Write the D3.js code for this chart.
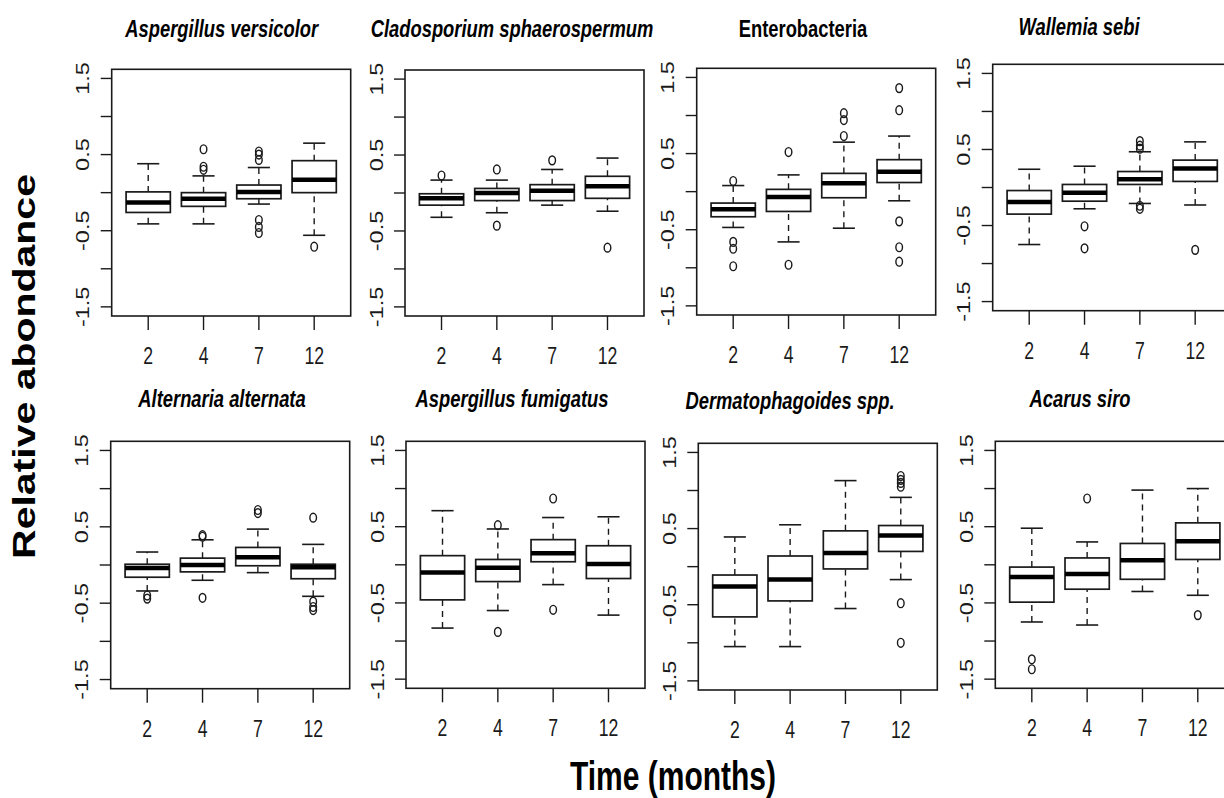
<!DOCTYPE html>
<html>
<head>
<meta charset="utf-8">
<script src="https://cdn.jsdelivr.net/npm/d3@7"></script>
<style>
  body { margin: 0; background: #fff; }
  svg { display: block; font-family: "Liberation Sans", Arial, sans-serif; }
</style>
</head>
<body>
<div id="chart"></div>
<script>
const W = 1224;
const H = 798;

const months = ["2", "4", "7", "12"];
const yTicks = [-1.5, -1, -0.5, 0, 0.5, 1, 1.5];
const yLabels = [-1.5, -0.5, 0.5, 1.5];

const species = ["Aspergillus versicolor", "Cladosporium sphaerospermum", "Enterobacteria", "Wallemia sebi",
                 "Alternaria alternata", "Aspergillus fumigatus", "Dermatophagoides spp.", "Acarus siro"];
const italic = [true, true, false, true, true, true, true, true];

// each box: [lower whisker, q1, median, q3, upper whisker]
const versicolorBox = [[-0.41, -0.26, -0.13, 0.01, 0.38], [-0.41, -0.18, -0.08, 0.0, 0.22], [-0.15, -0.08, 0.01, 0.10, 0.33], [-0.56, 0.0, 0.17, 0.42, 0.65]];
const versicolorOut = [[], [0.57, 0.34, 0.30], [0.54, 0.50, 0.43, -0.36, -0.45, -0.53], [-0.71]];

const cladoBox = [[-0.32, -0.16, -0.07, -0.01, 0.17], [-0.26, -0.10, 0.0, 0.06, 0.17], [-0.16, -0.10, 0.03, 0.11, 0.31], [-0.24, -0.07, 0.09, 0.22, 0.46]];
const cladoOut = [[0.23], [0.31, -0.43], [0.43], [-0.72]];

const enteroBox = [[-0.47, -0.33, -0.23, -0.15, 0.08], [-0.66, -0.26, -0.07, 0.03, 0.22], [-0.48, -0.08, 0.11, 0.24, 0.65], [-0.12, 0.12, 0.26, 0.42, 0.73]];
const enteroOut = [[0.14, -0.66, -0.75, -0.98], [0.52, -0.96], [1.03, 0.94, 0.73], [1.36, 1.07, -0.39, -0.73, -0.92]];

const wallemiaBox = [[-0.75, -0.35, -0.19, -0.04, 0.24], [-0.28, -0.18, -0.07, 0.04, 0.28], [-0.21, 0.04, 0.11, 0.21, 0.47], [-0.23, 0.08, 0.25, 0.36, 0.60]];
const wallemiaOut = [[], [-0.51, -0.80], [0.61, 0.55, 0.51, -0.24, -0.28], [-0.82]];

const alternariaBox = [[-0.34, -0.16, -0.04, 0.01, 0.17], [-0.20, -0.09, 0.0, 0.09, 0.33], [-0.10, -0.01, 0.10, 0.23, 0.47], [-0.41, -0.18, -0.03, 0.01, 0.27]];
const alternariaOut = [[-0.40, -0.44], [0.39, 0.37, -0.43], [0.72, 0.68], [0.62, -0.48, -0.55, -0.59]];

const fumigatusBox = [[-0.83, -0.46, -0.10, 0.12, 0.71], [-0.60, -0.22, -0.04, 0.07, 0.47], [-0.26, 0.04, 0.15, 0.33, 0.62], [-0.66, -0.18, 0.01, 0.25, 0.63]];
const fumigatusOut = [[], [0.52, -0.88], [0.87, -0.59], []];

const dermatoBox = [[-1.05, -0.66, -0.26, -0.11, 0.39], [-1.05, -0.45, -0.17, 0.14, 0.55], [-0.55, -0.03, 0.18, 0.47, 1.13], [-0.17, 0.20, 0.41, 0.54, 0.91]];
const dermatoOut = [[], [], [], [1.19, 1.14, 1.10, 1.05, -0.48, -1.0]];

const acarusBox = [[-0.75, -0.49, -0.16, -0.03, 0.48], [-0.79, -0.32, -0.12, 0.09, 0.30], [-0.35, -0.19, 0.06, 0.28, 0.98], [-0.40, 0.07, 0.31, 0.55, 1.0]];
const acarusOut = [[-1.24, -1.37], [0.87], [], [-0.66]];

const boxes = [versicolorBox, cladoBox, enteroBox, wallemiaBox, alternariaBox, fumigatusBox, dermatoBox, acarusBox];
const outs = [versicolorOut, cladoOut, enteroOut, wallemiaOut, alternariaOut, fumigatusOut, dermatoOut, acarusOut];

// panel frames: left, top, bottom   (the picture is squeezed sideways, so text is scaled by sx)
const frames = [[111.7, 69.3, 316], [405, 70, 316], [696.7, 68.3, 315], [992.7, 64.3, 310.7],
                [110.7, 441.3, 688.7], [406, 441.3, 688.3], [698.3, 443.3, 690], [995.3, 441.3, 688.3]];
const titlePos = [[221.7, 37], [512, 37], [803, 37], [1079, 35], [222, 407], [512, 407], [790, 409], [1080, 407]];
const pw = 239;
const sx = 0.75;
const ink = "#1a1a1a";

const svg = d3.select("#chart")
  .append("svg")
  .attr("width", W)
  .attr("height", H);

for (let p = 0; p < 8; p++) {
  const [left, top, bottom] = frames[p];
  const x = d3.scaleLinear().domain([0.34, 4.66]).range([left, left + pw]);
  const y = d3.scaleLinear().domain([-1.62, 1.62]).range([bottom, top]);
  const g = svg.append("g");

  // frame
  g.append("rect")
    .attr("x", left).attr("y", top)
    .attr("width", pw).attr("height", bottom - top)
    .attr("fill", "none").attr("stroke", ink).attr("stroke-width", 1.6);

  // y axis ticks
  g.selectAll(".yt").data(yTicks).enter().append("line")
    .attr("x1", left - 11).attr("x2", left)
    .attr("y1", d => y(d)).attr("y2", d => y(d))
    .attr("stroke", ink).attr("stroke-width", 1.4);
  g.selectAll(".yl").data(yLabels).enter().append("text")
    .attr("transform", d => `translate(${left - 22.5},${y(d)}) scale(${sx},1) rotate(-90)`)
    .attr("text-anchor", "middle")
    .attr("font-size", 23.5)
    .attr("fill", ink)
    .text(d => d);

  // x axis ticks
  g.selectAll(".xt").data(months).enter().append("line")
    .attr("x1", (d, i) => x(i + 1)).attr("x2", (d, i) => x(i + 1))
    .attr("y1", bottom).attr("y2", bottom + 14)
    .attr("stroke", ink).attr("stroke-width", 1.4);
  g.selectAll(".xl").data(months).enter().append("text")
    .attr("transform", (d, i) => `translate(${x(i + 1)},${bottom + 48}) scale(${sx},1)`)
    .attr("text-anchor", "middle")
    .attr("font-size", 23.5)
    .attr("fill", ink)
    .text(d => d);

  // boxes
  const bw = (x(1.4) - x(0.6));
  boxes[p].forEach(function (s, i) {
    const cx = x(i + 1);
    const [lo, q1, med, q3, hi] = s;
    // whiskers
    [[lo, q1], [q3, hi]].forEach(function (w) {
      g.append("line")
        .attr("x1", cx).attr("x2", cx)
        .attr("y1", y(w[0])).attr("y2", y(w[1]))
        .attr("stroke", ink).attr("stroke-width", 1.4)
        .attr("stroke-dasharray", "6,5");
    });
    [lo, hi].forEach(function (v) {
      g.append("line")
        .attr("x1", cx - bw / 4).attr("x2", cx + bw / 4)
        .attr("y1", y(v)).attr("y2", y(v))
        .attr("stroke", ink).attr("stroke-width", 1.6);
    });
    g.append("rect")
      .attr("x", cx - bw / 2).attr("y", y(q3))
      .attr("width", bw).attr("height", y(q1) - y(q3))
      .attr("fill", "#fff").attr("stroke", ink).attr("stroke-width", 1.7);
    g.append("line")
      .attr("x1", cx - bw / 2).attr("x2", cx + bw / 2)
      .attr("y1", y(med)).attr("y2", y(med))
      .attr("stroke", "#000").attr("stroke-width", 4.5);

    // outliers
    g.selectAll(null).data(outs[p][i]).enter().append("ellipse")
      .attr("cx", cx).attr("cy", d => y(d))
      .attr("rx", 3.3).attr("ry", 4.4)
      .attr("fill", "none").attr("stroke", ink).attr("stroke-width", 1.4);
  });

  // panel title
  svg.append("text")
    .attr("transform", `translate(${titlePos[p][0]},${titlePos[p][1]}) scale(${sx},1)`)
    .attr("text-anchor", "middle")
    .attr("font-size", 24.5)
    .attr("font-weight", "bold")
    .attr("font-style", italic[p] ? "italic" : "normal")
    .attr("fill", "#000")
    .text(species[p]);
}

// axis titles
svg.append("text")
  .attr("transform", `translate(673,790) scale(${sx},1)`)
  .attr("text-anchor", "middle")
  .attr("font-size", 40)
  .attr("font-weight", "bold")
  .text("Time (months)");

svg.append("text")
  .attr("transform", `translate(35,366.5) scale(${sx},1) rotate(-90)`)
  .attr("text-anchor", "middle")
  .attr("font-size", 41)
  .attr("font-weight", "bold")
  .text("Relative abondance");
</script>
</body>
</html>
